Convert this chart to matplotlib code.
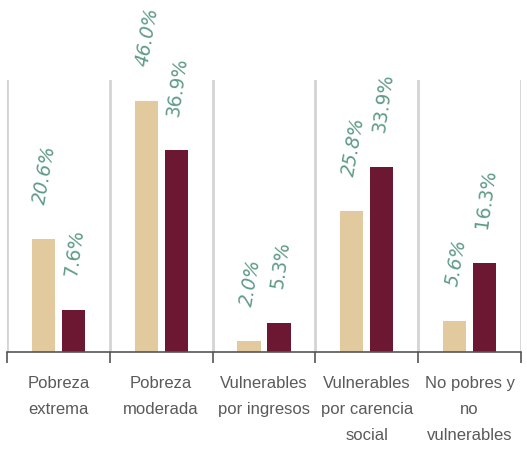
import matplotlib.pyplot as plt
import numpy as np

categories = ["Pobreza\nextrema", "Pobreza\nmoderada", "Vulnerables\npor ingresos",
              "Vulnerables\npor carencia\nsocial", "No pobres y\nno\nvulnerables"]
serie_a = [20.6, 46.0, 2.0, 25.8, 5.6]
serie_b = [7.6, 36.9, 5.3, 33.9, 16.3]

color_a = "#E2CA9E"
color_b = "#6D1832"
label_color = "#5F9A89"

fig = plt.figure(figsize=(5.27, 4.51), dpi=100)
ax = fig.add_axes([7 / 527, 99 / 451, 514 / 527, 272 / 451])

x = np.arange(len(categories))
off = 0.146
w = 0.225
ax.bar(x - off, serie_a, w, color=color_a)
ax.bar(x + off, serie_b, w, color=color_b)

ax.set_xlim(-0.5, len(categories) - 0.5)
ax.set_ylim(0, 49.8)

# separators between groups
for s in np.arange(-0.5, len(categories), 1.0):
    ax.axvline(s, color="#d4d4d4", lw=2, zorder=0)

for xi, v in zip(x, serie_a):
    ax.annotate(f"{v:.1f}%", (xi - off, v), xytext=(1, 24), textcoords="offset points",
                rotation=80, ha="center", va="bottom", color=label_color,
                fontsize=13.5, style="italic", annotation_clip=False)
for xi, v in zip(x, serie_b):
    ax.annotate(f"{v:.1f}%", (xi + off, v), xytext=(1, 24), textcoords="offset points",
                rotation=82, ha="center", va="bottom", color=label_color,
                fontsize=13.5, annotation_clip=False)

for sp in ["top", "right", "left"]:
    ax.spines[sp].set_visible(False)
ax.spines["bottom"].set_color("#555555")
ax.spines["bottom"].set_linewidth(1.2)
ax.set_yticks([])
ax.set_xticks(np.arange(-0.5, len(categories), 1.0))
ax.set_xticklabels([])
ax.tick_params(axis="x", length=8, width=1.2, color="#555555")
ax.set_xticks(x, minor=True)
ax.set_xticklabels(categories, minor=True, fontsize=12, color="#5a5a5a",
                   family="Liberation Sans", linespacing=1.95)
ax.tick_params(axis="x", which="minor", length=0, pad=17)

fig.savefig("out.png", dpi=100)
